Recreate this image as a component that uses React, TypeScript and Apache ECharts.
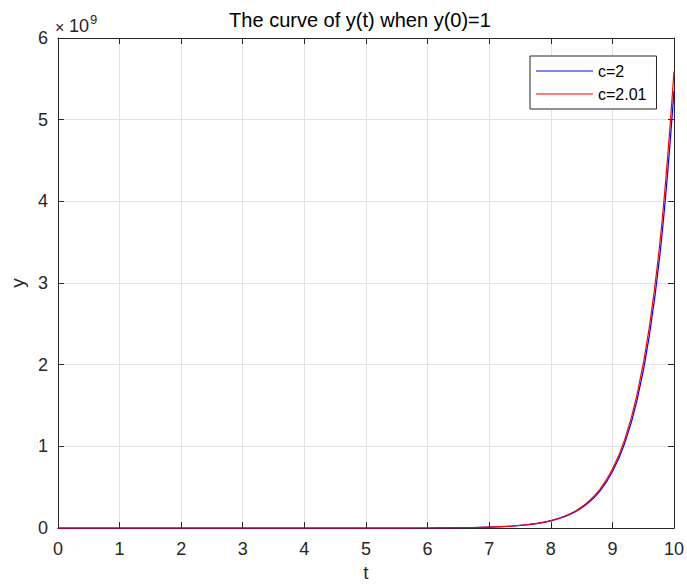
import React, { useEffect, useRef } from "react";
import * as echarts from "echarts";

// Time samples (t) and the two solutions, y values in units of 1e9
const tValues = [0, 1, 2, 3, 4, 5, 6, 6.5, 7, 7.2, 7.4, 7.6, 7.8, 8, 8.2, 8.4, 8.6, 8.8, 9, 9.2, 9.4, 9.6, 9.8, 10];
const yC2 = [0, 0, 0, 0, 0.00003, 0.0002, 0.0015, 0.0041, 0.0114, 0.0172, 0.0259, 0.0391, 0.0589, 0.0887, 0.1337, 0.2014, 0.3035, 0.457, 0.689, 1.038, 1.564, 2.357, 3.551, 5.35];
const yC201 = [0, 0, 0, 0, 0.00003, 0.0002, 0.0015, 0.0043, 0.0119, 0.0179, 0.027, 0.0407, 0.0613, 0.0924, 0.1393, 0.21, 0.3165, 0.477, 0.719, 1.083, 1.633, 2.46, 3.71, 5.59];
const seriesNames = ["c=2", "c=2.01"];
const seriesColors = ["#0000ff", "#ff0000"];
const xTicks = { min: 0, max: 10, interval: 1 };
const yTicks = { min: 0, max: 6, interval: 1 };

const WIDTH = 687;
const HEIGHT = 587;
const FONT = "'Liberation Sans', Arial, Helvetica, sans-serif";
const AXIS_COLOR = "#262626";
const GRID_COLOR = "#e2e2e2";
// thin horizontal bar used as the legend's line sample
const LEGEND_LINE = "path://M0,0H57V1H0Z";

export default function App() {
  const ref = useRef<HTMLDivElement>(null);

  useEffect(() => {
    if (!ref.current) return;
    const chart = echarts.init(ref.current, undefined, {
      renderer: "svg",
      width: WIDTH,
      height: HEIGHT,
    });

    const pairs = (ys: number[]) => tValues.map((t, i) => [t, ys[i]]);

    const baseX = {
      type: "value" as const,
      min: xTicks.min,
      max: xTicks.max,
      interval: xTicks.interval,
      axisLine: { show: true, onZero: false, lineStyle: { color: AXIS_COLOR, width: 1 } },
      axisTick: { show: true, inside: true, length: 6, lineStyle: { color: AXIS_COLOR } },
    };
    const baseY = {
      type: "value" as const,
      min: yTicks.min,
      max: yTicks.max,
      interval: yTicks.interval,
      axisLine: { show: true, onZero: false, lineStyle: { color: AXIS_COLOR, width: 1 } },
      axisTick: { show: true, inside: true, length: 6, lineStyle: { color: AXIS_COLOR } },
    };

    chart.setOption({
      animation: false,
      backgroundColor: "#ffffff",
      textStyle: { fontFamily: FONT },
      grid: { left: 53, right: 12, top: 38, bottom: 55, containLabel: false },
      xAxis: [
        {
          ...baseX,
          position: "bottom",
          name: "t",
          nameLocation: "middle",
          nameGap: 34,
          nameTextStyle: { fontSize: 19, color: AXIS_COLOR, fontFamily: FONT },
          axisLabel: { fontSize: 18, color: AXIS_COLOR, margin: 12, fontFamily: FONT },
          splitLine: { show: true, lineStyle: { color: GRID_COLOR, width: 1 } },
        },
        {
          ...baseX,
          position: "top",
          axisLabel: { show: false },
          splitLine: { show: false },
        },
      ],
      yAxis: [
        {
          ...baseY,
          position: "left",
          name: "y",
          nameLocation: "middle",
          nameGap: 30,
          nameTextStyle: { fontSize: 19, color: AXIS_COLOR, fontFamily: FONT },
          axisLabel: { fontSize: 18, color: AXIS_COLOR, margin: 10, fontFamily: FONT },
          splitLine: { show: true, lineStyle: { color: GRID_COLOR, width: 1 } },
        },
        {
          ...baseY,
          position: "right",
          axisLabel: { show: false },
          splitLine: { show: false },
        },
      ],
      legend: {
        data: seriesNames.map((name) => ({ name, icon: LEGEND_LINE })),
        orient: "vertical",
        left: 530,
        top: 56,
        itemWidth: 57,
        itemHeight: 16,
        itemGap: 7,
        itemTextGap: 4,
        padding: [7, 10, 7, 6],
        borderColor: AXIS_COLOR,
        borderWidth: 1,
        backgroundColor: "#ffffff",
        textStyle: { fontSize: 16, lineHeight: 16, color: "#000000", fontFamily: FONT },
      },
      series: seriesNames.map((name, i) => ({
        name,
        type: "line",
        data: pairs(i === 0 ? yC2 : yC201),
        symbol: "none",
        smooth: 0.4,
        lineStyle: { color: seriesColors[i], width: 1.2 },
        itemStyle: { color: seriesColors[i] },
      })),
      graphic: [
        {
          type: "text",
          x: 360,
          y: 10,
          style: {
            text: "The curve of y(t) when y(0)=1",
            fontSize: 20,
            fontFamily: FONT,
            fill: "#000000",
            textAlign: "center",
            textVerticalAlign: "top",
          },
        },
        {
          type: "text",
          x: 55,
          y: 19,
          style: {
            text: "×",
            fontSize: 16,
            fontFamily: FONT,
            fill: AXIS_COLOR,
            textAlign: "left",
            textVerticalAlign: "top",
          },
        },
        {
          type: "text",
          x: 69,
          y: 17,
          style: {
            text: "10",
            fontSize: 18,
            fontFamily: FONT,
            fill: AXIS_COLOR,
            textAlign: "left",
            textVerticalAlign: "top",
          },
        },
        {
          type: "text",
          x: 90,
          y: 13,
          style: {
            text: "9",
            fontSize: 13,
            fontFamily: FONT,
            fill: AXIS_COLOR,
            textAlign: "left",
            textVerticalAlign: "top",
          },
        },
      ],
    });

    return () => chart.dispose();
  }, []);

  return (
    <div
      ref={ref}
      style={{ position: "fixed", left: 0, top: 0, width: WIDTH, height: HEIGHT }}
    />
  );
}
